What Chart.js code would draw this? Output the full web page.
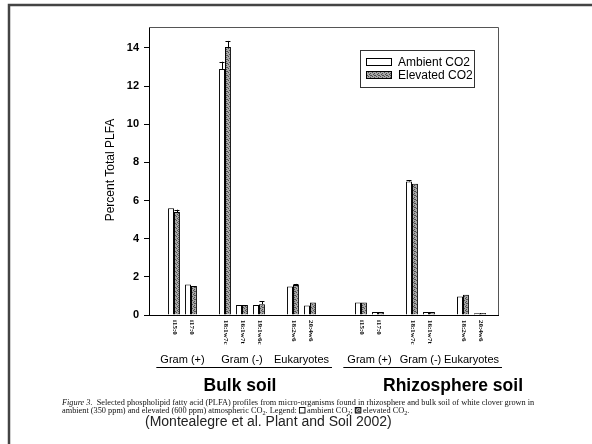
<!DOCTYPE html>
<html><head><meta charset="utf-8">
<script src="https://cdn.jsdelivr.net/npm/chart.js@4/dist/chart.umd.min.js"></script>
<style>html,body{margin:0;padding:0;background:#fff;}canvas{display:block;}</style>
</head><body>
<canvas id="c" width="592" height="444"></canvas>
<script>
// ---- data ----
const categories = ['i15:0','i17:0','','18:1w7c','16:1w7t','19:1w6c','','18:2w6','20:4w6','','','i15:0','i17:0','','18:1w7c','16:1w7t','','18:2w6','20:4w6'];
const ambient     = [5.6, 1.6, null, 12.9, 0.52, 0.52, null, 1.5, 0.5, null, null, 0.65, 0.16, null, 7.0, 0.16, null, 0.97, 0.09];
const elevated    = [5.4, 1.52, null, 14.05, 0.52, 0.57, null, 1.57, 0.66, null, null, 0.66, 0.16, null, 6.88, 0.16, null, 1.06, 0.1];
const ambientErr  = [0, 0, null, 0.38, 0, 0, null, 0, 0, null, null, 0, 0, null, 0.06, 0, null, 0, 0];
const elevatedErr = [0.12, 0, null, 0.32, 0, 0.14, null, 0.06, 0, null, null, 0, 0, null, 0, 0, null, 0, 0];
const seriesNames = ['Ambient CO2', 'Elevated CO2'];
const yTicks = [0, 2, 4, 6, 8, 10, 12, 14];
const yTitle = 'Percent Total PLFA';
const groupLabels = ['Gram (+)', 'Gram (-)', 'Eukaryotes', 'Gram (+)', 'Gram (-)', 'Eukaryotes'];
const groupRanges = [[0,1],[3,5],[7,8],[11,12],[14,15],[17,18]];
const soilLabels = ['Bulk soil', 'Rhizosphere soil'];
const captionLine1 = 'Selected phospholipid fatty acid (PLFA) profiles from micro-organisms found in rhizosphere and bulk soil of white clover grown in';
const creditText = '(Montealegre et al. Plant and Soil 2002)';

// ---- styles ----
const XMIN = -1.47, XMAX = 19.06;
function makePattern() {
  const p = document.createElement('canvas');
  p.width = 4; p.height = 4;
  const g = p.getContext('2d');
  g.fillStyle = '#a6a6a6'; g.fillRect(0, 0, 4, 4);
  g.fillStyle = '#4e4e4e';
  [[0,0],[2,1],[1,2],[3,3],[2,3]].forEach(([a, b]) => g.fillRect(a, b, 1, 1));
  return document.getElementById('c').getContext('2d').createPattern(p, 'repeat');
}
const hatch = makePattern();
const SANS = '"Liberation Sans", Arial, sans-serif';
const SERIF = '"Liberation Serif", "Times New Roman", serif';

function pts(arr) {
  const out = [];
  categories.forEach((c, i) => { if (c !== '' && arr[i] !== null) out.push({x: i, y: arr[i]}); });
  return out;
}

const extras = {
  id: 'extras',
  afterDatasetsDraw(chart) {
    const ctx = chart.ctx, ys = chart.scales.y;
    ctx.save();
    [ambientErr, elevatedErr].forEach((errs, di) => {
      const meta = chart.getDatasetMeta(di);
      const vals = di === 0 ? ambient : elevated;
      let k = 0;
      categories.forEach((c, i) => {
        if (c === '' || vals[i] === null) return;
        const el = meta.data[k++];
        if (!errs[i]) return;
        const top = ys.getPixelForValue(vals[i] + errs[i]);
        ctx.strokeStyle = '#000'; ctx.lineWidth = 1;
        ctx.beginPath();
        ctx.moveTo(Math.round(el.x) + 0.5, el.y); ctx.lineTo(Math.round(el.x) + 0.5, top);
        ctx.moveTo(el.x - 2.5, Math.round(top) + 0.5); ctx.lineTo(el.x + 2.5, Math.round(top) + 0.5);
        ctx.stroke();
      });
    });
    ctx.restore();
  },
  afterDraw(chart) {
    const ctx = chart.ctx, xs = chart.scales.x, ca = chart.chartArea;
    ctx.save();
    // plot box top/right
    ctx.strokeStyle = '#555'; ctx.lineWidth = 1;
    ctx.beginPath();
    ctx.moveTo(ca.left, ca.top + 0.5); ctx.lineTo(ca.right + 0.5, ca.top + 0.5); ctx.lineTo(ca.right + 0.5, ca.bottom);
    ctx.stroke();

    // y title
    ctx.fillStyle = '#000';
    ctx.font = '12px ' + SANS;
    ctx.textAlign = 'center'; ctx.textBaseline = 'middle';
    ctx.save(); ctx.translate(111, 170); ctx.rotate(-Math.PI / 2); ctx.fillText(yTitle, 0, 0); ctx.restore();

    // x category labels (rotated, reading top to bottom)
    ctx.font = 'bold 7px ' + SERIF;
    ctx.textAlign = 'left'; ctx.textBaseline = 'middle';
    categories.forEach((c, i) => {
      if (!c) return;
      const x = xs.getPixelForValue(i);
      ctx.save(); ctx.translate(x + 1, 320); ctx.rotate(Math.PI / 2); ctx.fillText(c, 0, 0); ctx.restore();
    });

    // group labels
    ctx.font = '11px ' + SANS;
    ctx.textAlign = 'center'; ctx.textBaseline = 'middle';
    const gx = groupRanges.map(r => (xs.getPixelForValue(r[0]) + xs.getPixelForValue(r[1])) / 2);
    groupLabels.forEach((g, i) => ctx.fillText(g, gx[i], 360));
    ctx.lineWidth = 1; ctx.strokeStyle = '#000';
    [[0, 2], [3, 5]].forEach(([a, b]) => {
      const l = gx[a] - ctx.measureText(groupLabels[a]).width / 2 - 4;
      const r = gx[b] + ctx.measureText(groupLabels[b]).width / 2 + 3;
      ctx.beginPath(); ctx.moveTo(l, 367.5); ctx.lineTo(r, 367.5); ctx.stroke();
    });

    // soil labels
    ctx.font = 'bold 17.5px ' + SANS;
    ctx.fillText(soilLabels[0], 240, 386);
    ctx.fillText(soilLabels[1], 453, 386);

    // legend
    ctx.strokeStyle = '#333'; ctx.lineWidth = 1;
    ctx.strokeRect(360.5, 50.5, 114, 37);
    const sw = [['#fff', 58], [hatch, 71]];
    sw.forEach(([f, y], i) => {
      ctx.fillStyle = f; ctx.fillRect(366, y, 26, 8);
      ctx.strokeStyle = '#000'; ctx.strokeRect(366.5, y + 0.5, 25, 7);
      ctx.fillStyle = '#000'; ctx.font = '12px ' + SANS; ctx.textAlign = 'left'; ctx.textBaseline = 'middle';
      ctx.fillText(seriesNames[i], 398, y + 4.5);
    });

    // caption
    const fs = 8.3;
    ctx.fillStyle = '#111'; ctx.textBaseline = 'alphabetic'; ctx.textAlign = 'left';
    let x = 62;
    ctx.font = 'italic ' + fs + 'px ' + SERIF;
    ctx.fillText('Figure 3.', x, 405); x += ctx.measureText('Figure 3.  ').width;
    ctx.font = fs + 'px ' + SERIF;
    ctx.fillText(captionLine1, x, 405);
    const runs = [['ambient (350 ppm) and elevated (600 ppm) atmospheric CO'], ['2', 'sub'], ['. Legend: '], ['', 'box0'], [' ambient CO'], ['2', 'sub'], ['; '], ['', 'box1'], [' elevated CO'], ['2', 'sub'], ['.']];
    x = 62; const yb = 413;
    runs.forEach(([t, k]) => {
      if (k === 'sub') {
        ctx.font = (fs * 0.75) + 'px ' + SERIF; ctx.fillText(t, x, yb + 1.5); x += ctx.measureText(t).width;
        ctx.font = fs + 'px ' + SERIF;
      } else if (k === 'box0' || k === 'box1') {
        ctx.fillStyle = k === 'box0' ? '#fff' : hatch; ctx.fillRect(x, yb - 6, 6, 6);
        ctx.strokeStyle = '#111'; ctx.strokeRect(x + 0.5, yb - 5.5, 5.5, 5.5);
        ctx.fillStyle = '#111'; x += 6;
      } else { ctx.fillText(t, x, yb); x += ctx.measureText(t).width; }
    });

    // credit
    ctx.font = '14px ' + SANS; ctx.fillStyle = '#222'; ctx.textAlign = 'left'; ctx.textBaseline = 'middle';
    ctx.fillText(creditText, 145, 422);

    // slide frame
    ctx.strokeStyle = '#444'; ctx.lineWidth = 2.5;
    ctx.beginPath(); ctx.moveTo(592, 5); ctx.lineTo(9, 5); ctx.lineTo(9, 444); ctx.stroke();
    ctx.restore();
  }
};

new Chart(document.getElementById('c'), {
  type: 'bar',
  data: {
    datasets: [
      { label: seriesNames[0], data: pts(ambient), backgroundColor: '#fff', borderColor: '#000', borderWidth: 1 },
      { label: seriesNames[1], data: pts(elevated), backgroundColor: hatch, borderColor: '#000', borderWidth: 1 }
    ]
  },
  options: {
    responsive: false, animation: false, devicePixelRatio: 1,
    categoryPercentage: 0.7, barPercentage: 1.0,
    layout: { padding: { top: 27, right: 94, left: 0, bottom: 0 } },
    plugins: { legend: { display: false }, tooltip: { enabled: false } },
    scales: {
      x: {
        type: 'linear', min: XMIN, max: XMAX, bounds: 'data', offset: false,
        grid: { display: false, offset: false },
        border: { display: true, color: '#000', width: 1 },
        ticks: { display: false },
        afterBuildTicks: s => { s.min = XMIN; s.max = XMAX; s.ticks = categories.map((c, i) => ({ value: i })); },
        afterFit: s => { s.height = 129; }
      },
      y: {
        min: 0, max: 15.1,
        afterBuildTicks: s => { s.ticks = yTicks.map(v => ({ value: v })); },
        grid: { drawOnChartArea: false, drawTicks: true, tickLength: 5, color: '#000' },
        border: { display: true, color: '#000', width: 1 },
        ticks: { color: '#000', padding: 5, font: { family: SANS, size: 11, weight: 'bold' } },
        afterFit: s => { s.width = 149; }
      }
    }
  },
  plugins: [extras]
});
</script>
</body></html>
